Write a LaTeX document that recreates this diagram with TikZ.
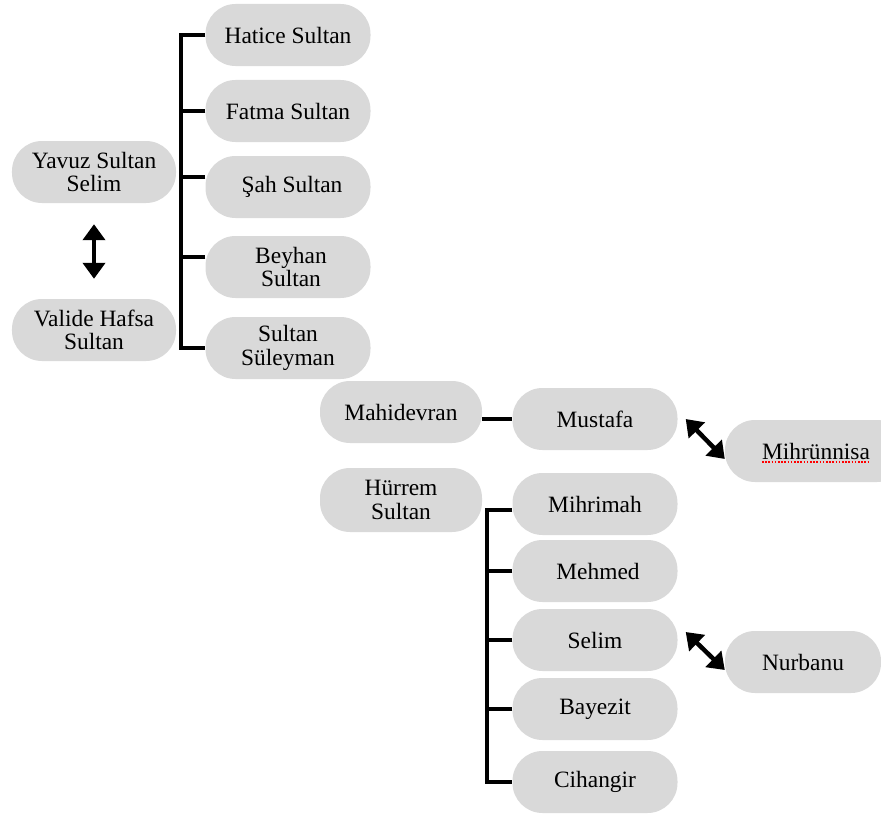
\documentclass[tikz,border=0pt]{standalone}
\usepackage{fontspec}
\setmainfont{Liberation Serif}
\usepackage{xcolor}
\usetikzlibrary{arrows.meta, positioning}

\begin{document}
\begin{tikzpicture}[
    x=1bp, y=-1bp,
    person/.style={fill=black!15, rounded corners=30bp, minimum width=165bp, minimum height=62bp, align=center, inner sep=2bp, font=\fontsize{23.5}{23.5}\selectfont},
    bracket/.style={line width=3.5bp},
    couple/.style={{Triangle[width=22bp,length=16bp]}-{Triangle[width=22bp,length=16bp]}, line width=4.5bp}
]
    \useasboundingbox (0,0) rectangle (881,814);

    % Parents
    \node[person, minimum width=164bp] (yavuz) at (94,172) {Yavuz Sultan\\Selim};
    \node[person, minimum width=164bp] (valide) at (94,330) {Valide Hafsa\\Sultan};

    % Children of Yavuz Sultan Selim
    \node[person] (hatice) at (288,35) {Hatice Sultan};
    \node[person] (fatma) at (288,111) {Fatma Sultan};
    \node[person] (sah) at (288,187) {\hspace*{8bp}Şah Sultan};
    \node[person] (beyhan) at (288,267) {\hspace*{6bp}Beyhan\\\hspace*{6bp}Sultan};
    \node[person] (suleyman) at (288,348) {Sultan\\Süleyman};

    % Wives of Süleyman
    \node[person, minimum width=162bp] (mahidevran) at (401,412) {Mahidevran};
    \node[person, minimum width=162bp, minimum height=64bp] (hurrem) at (401,500) {Hürrem\\Sultan};

    % Children of Süleyman
    \node[person] (mustafa) at (595,419) {Mustafa};
    \node[person] (mihrimah) at (595,504) {Mihrimah};
    \node[person] (mehmed) at (595,571) {\hspace*{6bp}Mehmed};
    \node[person] (selim) at (595,640) {Selim};
    \node[person] (bayezit) at (595,709) {Bayezit};
    \node[person] (cihangir) at (595,782) {Cihangir};

    % Spouses
    \node[person, minimum width=182bp] (mihrunnisa) at (816,451) {Mihrünnisa};
    \node[person, minimum width=156bp] (nurbanu) at (803,662) {Nurbanu};
    \draw[red, line width=1.6bp, dash pattern=on 1.6bp off 1.6bp] ([xshift=-54bp,yshift=-11bp]mihrunnisa.center) -- ([xshift=54bp,yshift=-11bp]mihrunnisa.center);

    % Brackets
    \coordinate (trunkA) at (181,0);
    \coordinate (trunkB) at (487,0);
    \draw[bracket] (hatice.west) -- (hatice.west -| trunkA) -- (suleyman.west -| trunkA) -- (suleyman.west);
    \draw[bracket] (fatma.west) -- (fatma.west -| trunkA);
    \draw[bracket] ([yshift=10bp]sah.west) -- ([yshift=10bp]sah.west -| trunkA);
    \draw[bracket] ([yshift=10bp]beyhan.west) -- ([yshift=10bp]beyhan.west -| trunkA);

    \draw[bracket] (mahidevran.east |- mustafa.west) -- (mustafa.west);

    \draw[bracket] ([yshift=-6bp]mihrimah.west) -- ([yshift=-6bp]mihrimah.west -| trunkB) -- (cihangir.west -| trunkB) -- (cihangir.west);
    \draw[bracket] (mehmed.west) -- (mehmed.west -| trunkB);
    \draw[bracket] (selim.west) -- (selim.west -| trunkB);
    \draw[bracket] (bayezit.west) -- (bayezit.west -| trunkB);

    % Marriages
    \draw[couple, shorten <=21bp, shorten >=20bp] (yavuz) -- (valide);
    \draw[couple] ([xshift=8bp]mustafa.east) -- ([yshift=-8bp]mihrunnisa.west);
    \draw[couple] ([xshift=8bp,yshift=8bp]selim.east) -- ([yshift=-8bp]nurbanu.west);

\end{tikzpicture}
\end{document}
